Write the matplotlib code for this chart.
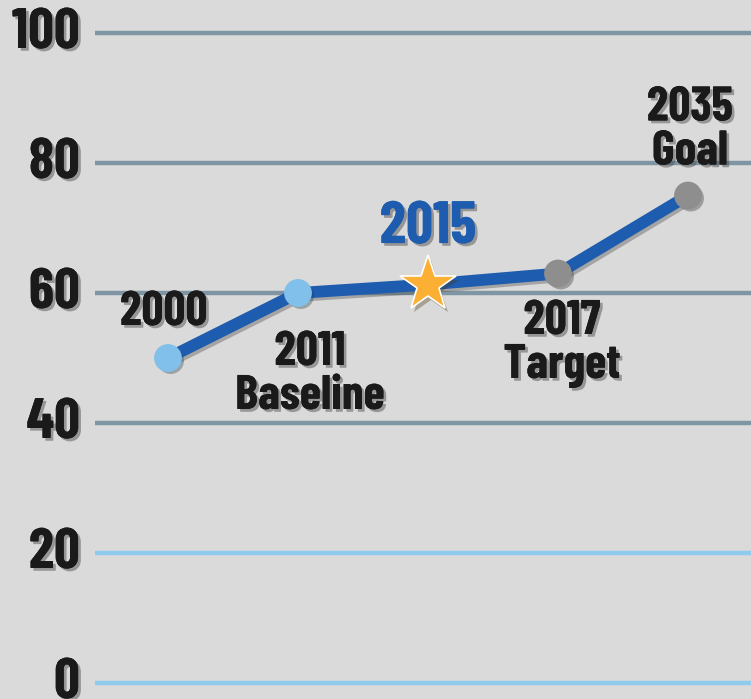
import matplotlib
matplotlib.use("Agg")
import matplotlib.pyplot as plt
import matplotlib.patheffects as pe

# data
years = ["2000", "2011", "2015", "2017", "2035"]
values = [50, 60, 61.3, 63, 75]
labels = ["2000", "2011\nBaseline", "2015", "2017\nTarget", "2035\nGoal"]
yticks = [0, 20, 40, 60, 80, 100]

bg = "#dadada"
line_col = "#1d5cae"
fam = ["Barlow Condensed", "DejaVu Sans"]
shadow = [pe.withSimplePatchShadow(offset=(2, -2), shadow_rgbFace="#444444", alpha=0.45), pe.Normal()]

fig = plt.figure(figsize=(7.51, 6.99), dpi=100)
fig.patch.set_facecolor(bg)
ax = fig.add_axes([95/751, 3/699, 656/751, 676/699])
ax.set_facecolor(bg)
ax.set_xlim(-73/130, 583/130)
ax.set_ylim(-2, 102)
ax.axis("off")

for t in yticks:
    c = "#8ecbec" if t < 40 else "#7f95a3"
    ax.axhline(t, color=c, lw=3.2, zorder=1)
    ax.text(-0.023, t, str(t), transform=ax.get_yaxis_transform(), ha="right", va="center",
            fontsize=41, fontweight="bold", family=fam, color="#1a1a1a", path_effects=shadow)

x = list(range(len(years)))
ax.plot(x, values, color=line_col, lw=8.5, solid_capstyle="round", zorder=3,
        path_effects=[pe.SimpleLineShadow(offset=(2, -2), shadow_color="#555555", alpha=0.4), pe.Normal()])

mcols = ["#80c0ea", "#80c0ea", None, "#8e8e8e", "#8e8e8e"]
for i in x:
    if i == 2:
        ax.plot(i, values[i], marker="*", ms=42, color="#fbb034", mec="white", mew=1.2, zorder=5,
                path_effects=[pe.SimplePatchShadow(offset=(2, -3), alpha=0.35), pe.Normal()])
    else:
        ax.plot(i, values[i], marker="o", ms=19, color=mcols[i], mec=mcols[i], zorder=4,
                path_effects=[pe.SimplePatchShadow(offset=(2, -2), alpha=0.35), pe.Normal()])

offs = [(-4, 46), (12, -81), (0, 57), (4, -70), (2, 66)]
for i in x:
    col = line_col if i == 2 else "#1a1a1a"
    sz = 43 if i == 2 else 35
    ax.annotate(labels[i], (i, values[i]), xytext=offs[i], textcoords="offset pixels",
                ha="center", va="center", fontsize=sz, fontweight="bold", family=fam,
                color=col, linespacing=1.0, path_effects=shadow, zorder=6)

fig.savefig("out.png", dpi=100, facecolor=bg)
